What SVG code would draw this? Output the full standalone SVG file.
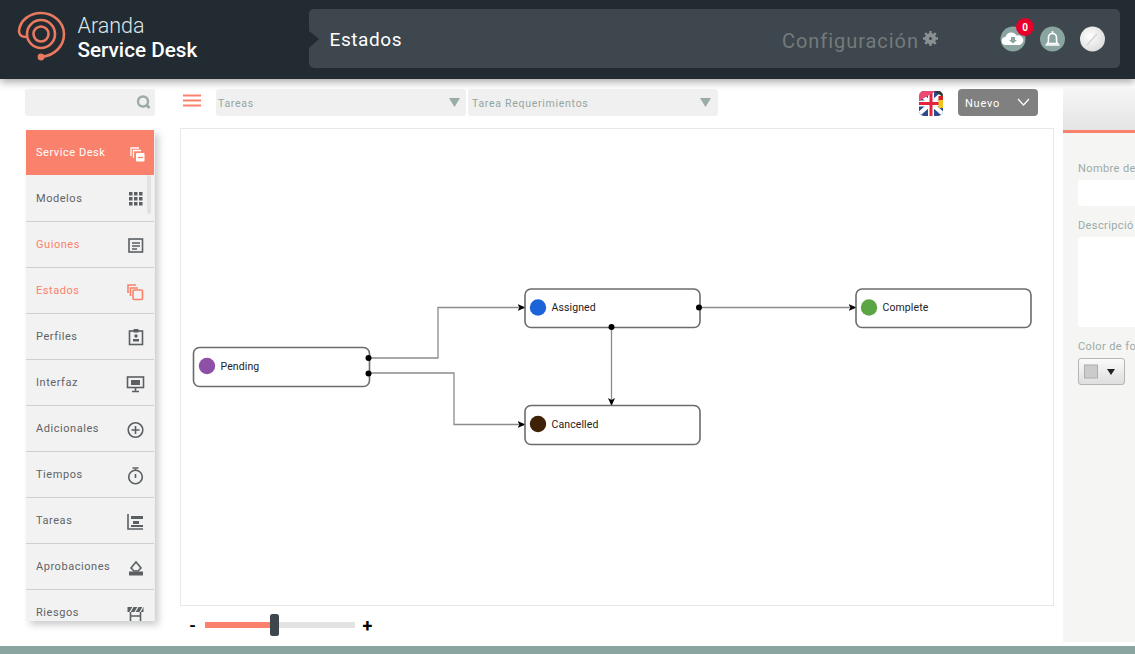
<svg xmlns="http://www.w3.org/2000/svg" width="1135" height="654" viewBox="0 0 1135 654">
<style>
text{font-family:Roboto,"Liberation Sans",sans-serif}
.m{font-size:11px;fill:#5f6365;letter-spacing:.55px}
.s{fill:#fa826c}
.sep{stroke:#cfcfcf;stroke-width:1.2}
.i{fill:none;stroke:#5a5f62;stroke-width:1.6}
.if{fill:#5a5f62}
.o{fill:none;stroke:#fa826c;stroke-width:1.6}
.node{fill:#fff;stroke:#6c6c6c;stroke-width:1.6}
.nt{font-size:10.5px;fill:#222;letter-spacing:.1px}
.c{fill:none;stroke:#8c8c8c;stroke-width:1.3}
.dot{fill:#000}
.dd{fill:#f0f0f0}
.ddt{font-size:10.5px;fill:#93a5a2;letter-spacing:.72px}
.tri{fill:#9aaba8}
.lab{font-size:11px;fill:#9aaba8;letter-spacing:.4px}
.rnd{fill:#8aa5a0}
.logo{fill:none;stroke:#e9795f;stroke-width:2.6}
</style>
<defs>
<filter id="sh" x="-20%" y="-20%" width="140%" height="140%"><feDropShadow dx="4" dy="4" stdDeviation="3.500" flood-color="#000" flood-opacity=".2"/></filter>
<filter id="hs" x="-5%" y="-20%" width="110%" height="150%"><feDropShadow dx="0" dy="3" stdDeviation="4" flood-color="#000" flood-opacity=".35"/></filter>
<marker id="ar" viewBox="0 0 8 8" refX="7.5" refY="4" markerWidth="8" markerHeight="8" markerUnits="userSpaceOnUse" orient="auto"><path d="M0 .5L8 4L0 7.5L2 4Z" fill="#000"/></marker>
<linearGradient id="g1" x1="0" y1="0" x2="0" y2="1"><stop offset="0" stop-color="#f6f6f6"/><stop offset="1" stop-color="#e4e4e4"/></linearGradient>
<linearGradient id="g2" x1="0" y1="0" x2="0" y2="1"><stop offset="0" stop-color="#fbfbfb"/><stop offset="1" stop-color="#dedede"/></linearGradient>
<radialGradient id="g3" cx=".4" cy=".4" r=".7"><stop offset="0" stop-color="#fff"/><stop offset="1" stop-color="#d8d8d8"/></radialGradient>
<clipPath id="sb"><rect x="26" y="130" width="129" height="491"/></clipPath>
<clipPath id="rp"><rect x="1063" y="88" width="72" height="556"/></clipPath>
<clipPath id="fl"><rect x="919" y="91" width="24" height="25" rx="5"/></clipPath>
</defs>
<rect width="1135" height="654" fill="#fff"/>
<g id="header">
<rect width="1135" height="79" fill="#222a32" filter="url(#hs)"/>
<g id="logo">
<path class="logo" d="M26 37C20 37 19 33 19 31C20 20 30 13 41 13C53 13 64 22 64 34C64 46 55 55 42 57"/>
<circle class="logo" cx="41" cy="34" r="14"/>
<circle class="logo" cx="41" cy="34" r="7.5"/>
<circle cx="41" cy="57" r="3.4" fill="#e9795f"/>
</g>
<text x="77.500" y="33" font-size="21.500" font-weight="300" fill="#dfe6ea">Aranda</text>
<text x="77.500" y="57" font-size="20.700" font-weight="500" fill="#fff">Service Desk</text>
<path d="M314 9H1115a5 5 0 0 1 5 5V63a5 5 0 0 1-5 5H314a5 5 0 0 1-5-5V48L319 39L309 31V14a5 5 0 0 1 5-5Z" fill="#3d474d"/>
<text x="329.500" y="46" font-size="19" font-weight="400" fill="#fff" letter-spacing=".6">Estados</text>
<text x="782" y="48" font-size="20" fill="#757a7c" letter-spacing=".95">Configuración</text>
<g id="gear" fill="#8b9092"><circle cx="930.500" cy="38.500" r="5.500"/><path d="M930.500 31V46M923 38.500H938M925.200 33.200L935.800 43.800M935.800 33.200L925.200 43.800" stroke="#8b9092" stroke-width="2.400"/><circle cx="930.500" cy="38.500" r="1.500" fill="#3d474d"/></g>
<g id="cloud"><circle class="rnd" cx="1013" cy="39" r="12.500"/><path d="M1006 45a4 4 0 0 1-.5-8a6 6 0 0 1 11-1.500a5 5 0 0 1 3.500 9.500Z" fill="#fff"/><path d="M1011 37h4v3h2l-4 3.500l-4-3.500h2Z" fill="#8aa5a0"/></g>
<g id="badge"><circle cx="1025" cy="27" r="9" fill="#e4002b"/><text x="1025" y="30.500" font-size="10" font-weight="700" fill="#fff" text-anchor="middle">0</text></g>
<g id="bell"><circle class="rnd" cx="1052.500" cy="39" r="12.500"/><path d="M1047.500 43.500c1.500-1.500 1-3 1-6a4 4 0 0 1 8 0c0 3-.5 4.500 1 6Z" fill="none" stroke="#fff" stroke-width="1.600"/><path d="M1045.500 45H1059.500" stroke="#fff" stroke-width="1.500"/><circle cx="1052.500" cy="32" r="1.100" fill="#fff"/></g>
<g id="avatar"><circle cx="1092.500" cy="39" r="12.500" fill="url(#g3)"/><path d="M1087 45L1097 34" stroke="#d6d6d6" stroke-width="1.500"/></g>
</g>
<g id="toolbar">
<rect class="dd" x="25" y="89" width="130" height="27" rx="3"/>
<circle cx="143" cy="101.500" r="5" fill="none" stroke="#9aaba8" stroke-width="2.400"/><path d="M146.500 105L149.500 108" stroke="#9aaba8" stroke-width="2.800"/>
<path d="M183 95.500H201M183 100.500H201M183 105.500H201" stroke="#fa826c" stroke-width="1.900"/>
<rect class="dd" x="216" y="89" width="250" height="27" rx="3"/>
<text class="ddt" x="218" y="107">Tareas</text>
<path class="tri" d="M449 98H460L454.500 107Z"/>
<rect class="dd" x="468" y="89" width="250" height="27" rx="3"/>
<text class="ddt" x="472" y="107">Tarea Requerimientos</text>
<path class="tri" d="M700 98H711L705.500 107Z"/>
<g id="flag" clip-path="url(#fl)">
<rect x="919" y="91" width="24" height="25" fill="#2c4a8c"/>
<path d="M919 93L943 114M943 93L919 114" stroke="#fff" stroke-width="4"/>
<path d="M931 91V116M919 103.500H943" stroke="#fff" stroke-width="6"/>
<path d="M931 91V116M919 103.500H943" stroke="#e2243c" stroke-width="3"/>
<path d="M919 91H936L919 101Z" fill="#ea4a72"/>
<path d="M934 91H943V97Z" fill="#333"/>
<rect x="938.500" y="96" width="4.500" height="4" fill="#d32020"/>
<rect x="938.500" y="100" width="4.500" height="8" fill="#f2c420"/>
</g>
<rect x="958" y="89" width="80" height="27" rx="4" fill="#808080"/>
<text x="965" y="107" font-size="11" font-weight="400" fill="#fff" letter-spacing=".75">Nuevo</text>
<path d="M1018 99L1023.500 105L1029 99" fill="none" stroke="#fff" stroke-width="1.200"/>
</g>
<g id="sidebar">
<rect x="26" y="130" width="128.500" height="491" fill="#f2f2f2" filter="url(#sh)"/>
<g clip-path="url(#sb)">
<rect x="26" y="130" width="128" height="45" class="s"/>
<rect x="147" y="175" width="4" height="39" rx="2" fill="#e2e2e2"/>
<path class="sep" d="M26 221.500H154M26 267.500H154M26 313.500H154M26 359.500H154M26 405.500H154M26 451.500H154M26 497.500H154M26 543.500H154M26 589.500H154"/>
<text x="36" y="156" font-size="11" font-weight="400" fill="#fff" letter-spacing=".55">Service Desk</text>
<text class="m" x="36" y="202">Modelos</text>
<text class="m" x="36" y="248" style="fill:#fa826c">Guiones</text>
<text class="m" x="36" y="294" style="fill:#fa826c">Estados</text>
<text class="m" x="36" y="340">Perfiles</text>
<text class="m" x="36" y="386">Interfaz</text>
<text class="m" x="36" y="432">Adicionales</text>
<text class="m" x="36" y="478">Tiempos</text>
<text class="m" x="36" y="524">Tareas</text>
<text class="m" x="36" y="570">Aprobaciones</text>
<text class="m" x="36" y="616">Riesgos</text>
<g id="ic-sd"><path d="M131 156V148H139M133.500 158V150.500H141" fill="none" stroke="#fff" stroke-width="1.300"/><rect x="136" y="153" width="8.500" height="8.500" rx="1" fill="#fff"/><path d="M138 157.500H143" stroke="#fa826c" stroke-width="1.300"/></g>
<g id="ic-mod" class="if"><rect x="129" y="192" width="3.500" height="3.500"/><rect x="134" y="192" width="3.500" height="3.500"/><rect x="139" y="192" width="3.500" height="3.500"/><rect x="129" y="197" width="3.500" height="3.500"/><rect x="134" y="197" width="3.500" height="3.500"/><rect x="139" y="197" width="3.500" height="3.500"/><rect x="129" y="202" width="3.500" height="3.500"/><rect x="134" y="202" width="3.500" height="3.500"/><rect x="139" y="202" width="3.500" height="3.500"/></g>
<g id="ic-gui"><rect class="i" x="129" y="239" width="13.500" height="13"/><path class="i" d="M132 243H140M132 246H140M132 249H137" stroke-width="1.200"/></g>
<g id="ic-est"><path class="o" d="M128 293V285H136M130.500 296V288H138"/><rect class="o" x="133" y="290" width="9.500" height="9.500" rx="1" stroke-width="1.800"/></g>
<g id="ic-per"><rect class="i" x="129.500" y="331" width="13" height="13.500"/><rect class="if" x="133.500" y="329" width="5" height="3.500"/><circle class="if" cx="136" cy="336" r="1.700"/><rect class="if" x="133" y="339" width="6" height="2.500"/></g>
<g id="ic-int"><rect class="i" x="127.500" y="377" width="16" height="10.500"/><rect class="if" x="131" y="380" width="9" height="5"/><path class="i" d="M135.500 388V391M132 391.500H139" stroke-width="1.400"/></g>
<g id="ic-adi"><circle class="i" cx="135.500" cy="430" r="7.300"/><path class="i" d="M135.500 426V434M131.500 430H139.500"/></g>
<g id="ic-tie"><circle class="i" cx="135.500" cy="477" r="6.800"/><path class="i" d="M132.500 468H138.500M135.500 469V471M135.500 474V478"/></g>
<g id="ic-tar"><path class="i" d="M128 514V529H143"/><rect class="if" x="131" y="516" width="12" height="3"/><rect class="if" x="133" y="521" width="6" height="3"/><rect class="if" x="131" y="525" width="12" height="2"/></g>
<g id="ic-apr"><path class="i" d="M131 568L136 562L141 568L138 571H134Z"/><path class="if" d="M129 571.500H143V575.500H129Z"/></g>
<g id="ic-rie"><rect class="if" x="127.500" y="607" width="16" height="5"/><path d="M130 612L133 607M135 612L138 607M140 612L143 607" stroke="#f2f2f2" stroke-width="1.200"/><path class="i" d="M130.500 612V622M140.500 612V622M130.500 616H140.500"/></g>
</g>
</g>
<rect id="canvas" x="180.500" y="128.500" width="873" height="477" fill="#fff" stroke="#e8e8e8"/>
<g id="connectors">
<path class="c" marker-end="url(#ar)" d="M368 358H438V307.500H525"/>
<path class="c" marker-end="url(#ar)" d="M368 373H454V424.500H525"/>
<path class="c" marker-end="url(#ar)" d="M699 307.500H856"/>
<path class="c" marker-end="url(#ar)" d="M611.500 327V405.500"/>
</g>
<g id="node-pending"><rect class="node" x="193.500" y="347.500" width="176" height="39" rx="6"/><circle cx="207" cy="366" r="8.200" fill="#8e4fa6"/><text class="nt" x="220.500" y="370">Pending</text></g>
<g id="node-assigned"><rect class="node" x="525" y="289" width="175" height="38.500" rx="6"/><circle cx="538" cy="307.500" r="8.200" fill="#1a63d8"/><text class="nt" x="551.500" y="311">Assigned</text></g>
<g id="node-complete"><rect class="node" x="856" y="289" width="175" height="38.500" rx="6"/><circle cx="869" cy="307.500" r="8.200" fill="#5ca544"/><text class="nt" x="882.500" y="311">Complete</text></g>
<g id="node-cancelled"><rect class="node" x="525" y="405.500" width="175" height="39" rx="6"/><circle cx="538" cy="424" r="8.200" fill="#3f2206"/><text class="nt" x="551.500" y="428">Cancelled</text></g>
<g id="ports">
<circle class="dot" cx="368.500" cy="358" r="3"/>
<circle class="dot" cx="368.500" cy="373.500" r="3"/>
<circle class="dot" cx="699" cy="307.500" r="3"/>
<circle class="dot" cx="611.500" cy="327" r="3"/>
</g>
<g id="zoom">
<text x="192.500" y="631" font-size="17" font-weight="700" fill="#000" text-anchor="middle">-</text>
<rect x="205" y="622" width="150" height="6" fill="#e3e3e3"/>
<rect x="205" y="622" width="68" height="6" fill="#fa826c"/>
<rect x="270" y="614" width="9" height="22" rx="2.500" fill="#3d474d"/>
<text x="367.500" y="632" font-size="18" font-weight="700" fill="#000" text-anchor="middle">+</text>
</g>
<g id="panel" clip-path="url(#rp)">
<rect x="1063" y="88" width="72" height="554" fill="#f5f5f3"/>
<rect x="1063" y="88" width="72" height="42" fill="url(#g1)"/>
<rect x="1063" y="130" width="72" height="3" class="s"/>
<text class="lab" x="1078" y="172">Nombre de</text>
<rect x="1078" y="180" width="70" height="26" rx="3" fill="#fff"/>
<text class="lab" x="1078" y="229">Descripció</text>
<rect x="1078" y="237" width="70" height="90" rx="3" fill="#fff"/>
<text class="lab" x="1078" y="350">Color de fo</text>
<rect x="1078.500" y="358.500" width="46" height="26" rx="2.500" fill="url(#g2)" stroke="#b5b5b5"/>
<rect x="1084.500" y="365" width="13" height="13" fill="#cbcbcb" stroke="#adadad"/>
<path d="M1107 369H1115L1111 375Z" fill="#222"/>
</g>
<rect id="footer" x="0" y="646" width="1135" height="8" fill="#8aa5a0"/>
</svg>
